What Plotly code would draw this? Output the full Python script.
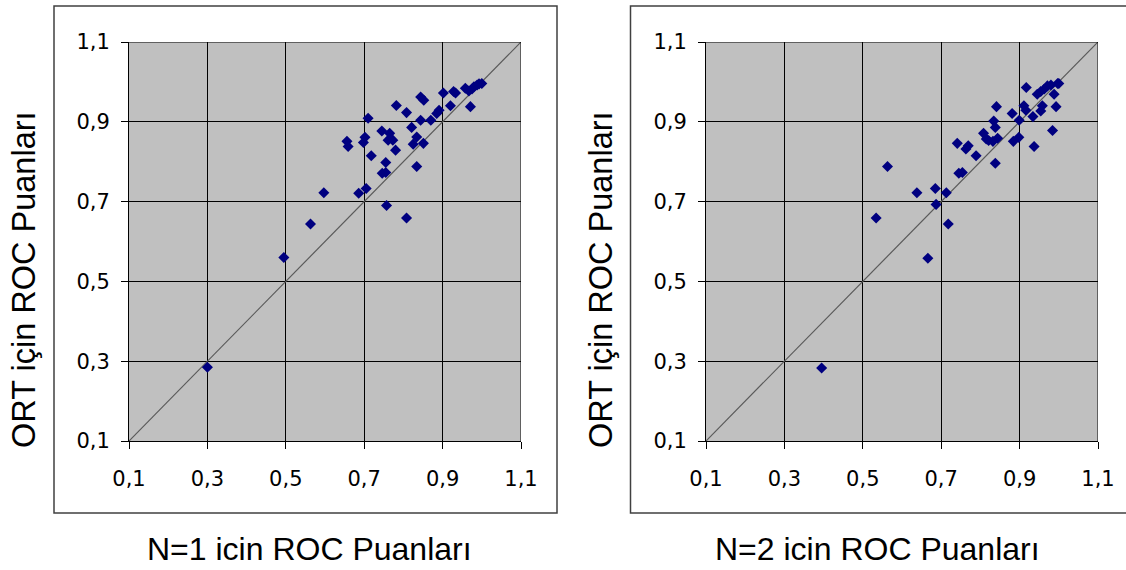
import plotly.graph_objects as go

# Left panel: N=1 scores (x) vs ORT scores (y)
n1_x = [0.300, 0.495, 0.563, 0.597, 0.686, 0.705, 0.757, 0.808, 0.656, 0.659, 0.698, 0.702,
        0.710, 0.718, 0.745, 0.755, 0.746, 0.755, 0.765, 0.761, 0.773, 0.780, 0.782, 0.808,
        0.821, 0.834, 0.825, 0.851, 0.834, 0.844, 0.852, 0.844, 0.870, 0.885, 0.891, 0.902,
        0.920, 0.928, 0.933, 0.958, 0.971, 0.967, 0.980, 0.988, 1.000, 0.975, 0.993]
n1_y = [0.285, 0.560, 0.644, 0.722, 0.721, 0.733, 0.690, 0.659, 0.851, 0.838, 0.848, 0.861,
        0.909, 0.815, 0.877, 0.798, 0.771, 0.773, 0.871, 0.854, 0.854, 0.829, 0.941, 0.923,
        0.886, 0.862, 0.844, 0.846, 0.788, 0.962, 0.954, 0.904, 0.904, 0.921, 0.929, 0.972,
        0.940, 0.976, 0.972, 0.984, 0.938, 0.977, 0.988, 0.992, 0.996, 0.982, 0.995]

# Right panel: N=2 scores (x) vs ORT scores (y)
n2_x = [0.395, 0.534, 0.563, 0.638, 0.666, 0.685, 0.687, 0.713, 0.718, 0.741, 0.745, 0.754,
        0.763, 0.769, 0.789, 0.808, 0.815, 0.821, 0.832, 0.844, 0.834, 0.838, 0.841, 0.838,
        0.881, 0.884, 0.898, 0.899, 0.911, 0.916, 0.917, 0.937, 0.934, 0.954, 0.958, 0.945,
        0.954, 0.963, 0.971, 0.980, 0.988, 0.997, 1.000, 0.984, 0.993]
n2_y = [0.283, 0.659, 0.788, 0.722, 0.558, 0.733, 0.693, 0.722, 0.644, 0.846, 0.771, 0.773,
        0.832, 0.840, 0.815, 0.871, 0.857, 0.853, 0.851, 0.859, 0.902, 0.886, 0.938, 0.796,
        0.921, 0.851, 0.861, 0.904, 0.940, 0.929, 0.986, 0.838, 0.913, 0.927, 0.940, 0.969,
        0.976, 0.982, 0.990, 0.992, 0.969, 0.996, 0.996, 0.878, 0.938]

diag = [0.1, 1.1]
tick_vals = [0.1, 0.3, 0.5, 0.7, 0.9, 1.1]
y_title = "ORT için ROC Puanları"
x_titles = ["N=1 icin ROC Puanları", "N=2 icin ROC Puanları"]

W, H = 1126, 570
fig = go.Figure()

panels = [
    (n1_x, n1_y, "x", "y"),
    (n2_x, n2_y, "x2", "y2"),
]
for xs, ys, xa, ya in panels:
    fig.add_trace(go.Scatter(x=diag, y=diag, mode="lines", xaxis=xa, yaxis=ya,
                             line=dict(color="#5a5a5a", width=1.2), hoverinfo="skip",
                             showlegend=False))
    fig.add_trace(go.Scatter(x=xs, y=ys, mode="markers", xaxis=xa, yaxis=ya,
                             marker=dict(symbol="diamond", size=8.5, color="#000080",
                                         line=dict(width=0)),
                             showlegend=False))

def px_x(p):
    return p / W

def px_y(p):
    return 1 - p / H

axis_common = dict(range=[0.1, 1.1], tickvals=tick_vals, tickformat=".1f",
                   showgrid=True, gridcolor="black", gridwidth=1,
                   showline=True, linecolor="black", linewidth=1,
                   ticks="outside", ticklen=7, tickcolor="black", tickwidth=1,
                   zeroline=False, mirror=False, automargin=False,
                   tickfont=dict(family="DejaVu Sans", size=21, color="black"))

fig.update_layout(
    width=W, height=H, autosize=False,
    margin=dict(l=0, r=0, t=0, b=0, pad=0, autoexpand=False),
    paper_bgcolor="white",
    plot_bgcolor="#c0c0c0",
    separators=",.",
    showlegend=False,
    xaxis=dict(domain=[px_x(129), px_x(521)], anchor="y", ticklabelstandoff=12, **axis_common),
    yaxis=dict(domain=[px_y(441), px_y(42)], anchor="x", ticklabelstandoff=7, **axis_common),
    xaxis2=dict(domain=[px_x(706), px_x(1098)], anchor="y2", ticklabelstandoff=12, **axis_common),
    yaxis2=dict(domain=[px_y(441), px_y(42)], anchor="x2", ticklabelstandoff=7, **axis_common),
)

# grid lines at upper/right edges
for xa, ya in [("x", "y"), ("x2", "y2")]:
    fig.add_shape(type="line", xref=xa, yref=ya, x0=1.1, x1=1.1, y0=0.1, y1=1.1,
                  line=dict(color="black", width=1))
    fig.add_shape(type="line", xref=xa, yref=ya, x0=0.1, x1=1.1, y0=1.1, y1=1.1,
                  line=dict(color="black", width=1))

# outer frames
for x0, x1 in [(54, 557), (630.5, 1128)]:
    fig.add_shape(type="rect", xref="paper", yref="paper",
                  x0=px_x(x0), x1=px_x(x1), y0=px_y(513), y1=px_y(6),
                  line=dict(color="#404040", width=1.5), fillcolor="rgba(0,0,0,0)",
                  layer="below")

title_font = dict(family="Liberation Sans, Arial", size=32, color="black")
for cx, txt in [(309, x_titles[0]), (877, x_titles[1])]:
    fig.add_annotation(x=px_x(cx), y=px_y(549), xref="paper", yref="paper",
                       text=txt, showarrow=False, xanchor="center", yanchor="middle",
                       font=title_font)
yt_font = dict(family="Liberation Sans, Arial", size=32.5, color="black")
for cx in [24, 601]:
    fig.add_annotation(x=px_x(cx), y=px_y(280), xref="paper", yref="paper",
                       text=y_title, showarrow=False, xanchor="center", yanchor="middle",
                       textangle=-90, font=yt_font)

fig.write_html("out.html",
               config={"displayModeBar": False},
               post_script="document.body.style.margin='0px';document.body.style.padding='0px';")
